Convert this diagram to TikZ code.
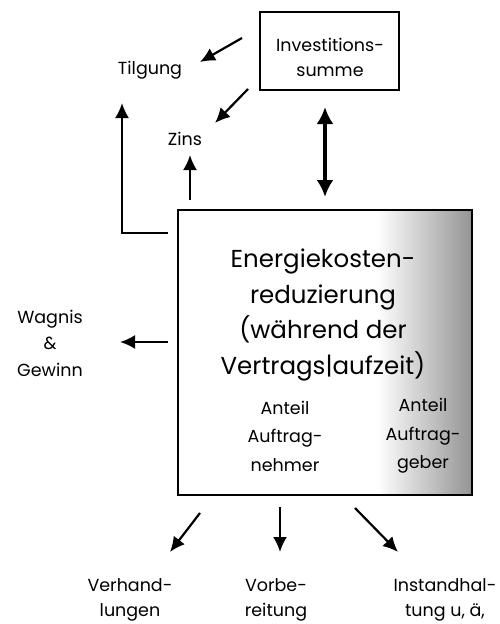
\documentclass[tikz,border=0pt]{standalone}
\usepackage{fontspec}
\setmainfont{Poppins}
\usetikzlibrary{arrows.meta}
\tikzset{
  lbl/.style={align=center, font=\fontsize{17.5}{25}\selectfont, inner sep=0pt},
  big/.style={align=center, font=\fontsize{24.5}{35.5}\selectfont, inner sep=0pt},
  arr/.style={line width=2.2pt, -{Latex[length=15pt,width=14pt]}},
  boxline/.style={draw, line width=2pt}
}
\begin{document}
\begin{tikzpicture}[x=1pt,y=-1pt]
\useasboundingbox (0,0) rectangle (500,624);
% main box with shading on the right
\shade[left color=white, right color=black!42] (377,210) rectangle (472,495);
\node[boxline, minimum width=294pt, minimum height=285pt, inner sep=0pt] (main) at (325,352.5) {};
\node[big] (ek) at (323,315) {Energiekosten-\\reduzierung\\(während der\\Vertrags|aufzeit)};
\node[lbl, font=\fontsize{17.5}{28.5}\selectfont] (an) at (285,436) {Anteil\\Auftrag-\\nehmer};
\node[lbl, font=\fontsize{17.5}{28.5}\selectfont] (ag) at (423,436) {Anteil\\Auftrag-\\geber};
% Investitionssumme
\node[boxline, minimum width=139pt, minimum height=78pt, inner sep=0pt] (inv) at (329.5,51) {};
\node[lbl] at (330,57) {Investitions-\\summe};
% labels
\node[lbl] (tilg) at (150,70) {Tilgung};
\node[lbl] (zins) at (185,139) {Zins};
\node[lbl, font=\fontsize{17.5}{26.5}\selectfont] (wag) at (50,343) {Wagnis\\\&\\Gewinn};
\node[lbl] (verh) at (130,600) {Verhand-\\lungen};
\node[lbl] (vorb) at (276,600) {Vorbe-\\reitung};
\node[lbl] (inst) at (445,600) {Instandhal-\\tung u, ä,};
% coordinates for connectors
\coordinate (a1s) at (242,38); \coordinate (a1e) at (200,62);
\coordinate (a2s) at (248,89); \coordinate (a2e) at (215,123);
\coordinate (zs) at (190,200); \coordinate (ze) at (190,155);
\coordinate (ts) at (168,233); \coordinate (tc) at (122,233); \coordinate (te) at (122,103);
\coordinate (ds) at (325,107); \coordinate (de) at (325,197);
\coordinate (ws) at (168,342); \coordinate (we) at (120,342);
\coordinate (b1s) at (200,513); \coordinate (b1e) at (170,552);
\coordinate (b2s) at (280,507); \coordinate (b2e) at (280,552);
\coordinate (b3s) at (355,508); \coordinate (b3e) at (398,552);
% connectors
\draw[arr] (a1s) -- (a1e);
\draw[arr] (a2s) -- (a2e);
\draw[arr] (zs) -- (ze);
\draw[arr] (ts) -- (tc) -- (te);
\draw[line width=3.5pt, {Latex[length=17pt,width=17pt]}-{Latex[length=17pt,width=17pt]}] (ds) -- (de);
\draw[arr] (ws) -- (we);
\draw[arr] (b1s) -- (b1e);
\draw[arr] (b2s) -- (b2e);
\draw[arr] (b3s) -- (b3e);
\end{tikzpicture}
\end{document}
